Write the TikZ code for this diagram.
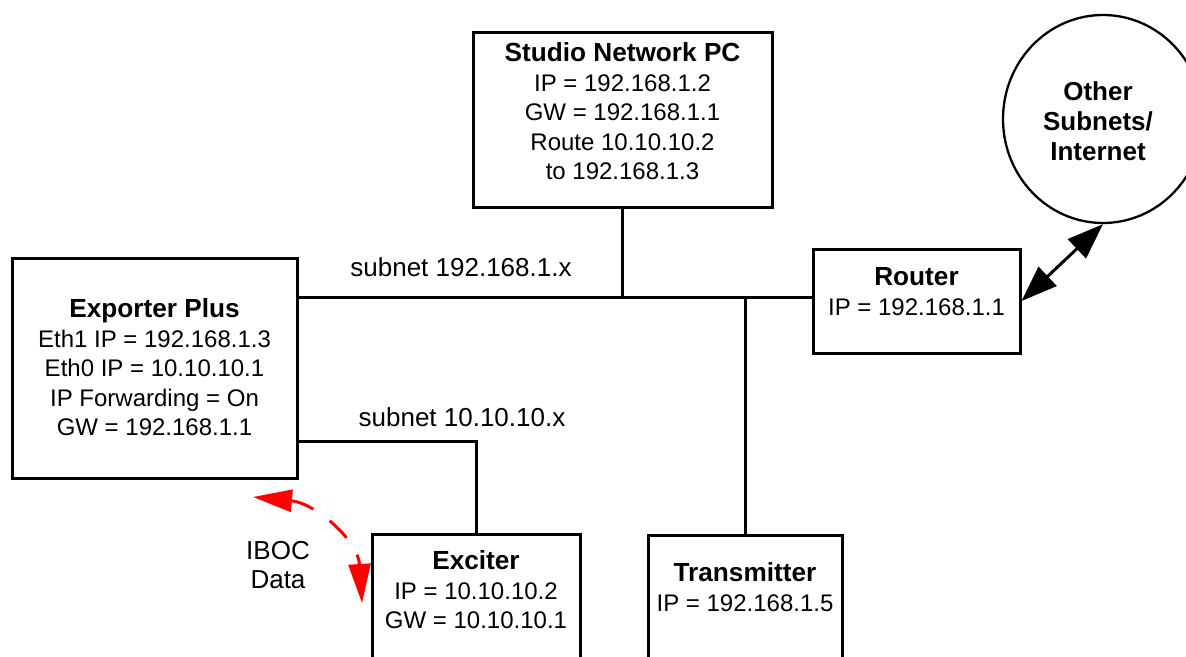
\documentclass[tikz,border=0pt]{standalone}
\usepackage{fontspec}
\setmainfont{Liberation Sans}
\usetikzlibrary{arrows.meta,shapes.geometric}

\newcommand{\boxtitle}[1]{{\fontsize{26.2}{29.5}\selectfont\bfseries #1}}

\begin{document}
\begin{tikzpicture}
  [x=1pt, y=-1pt]
  \tikzstyle{box} = [draw=black, line width=3pt, rectangle, inner sep=0pt];
  \tikzstyle{box_text} = [inner sep=0pt, align=center, anchor=north, font=\fontsize{24}{29.5}\selectfont];
  \tikzstyle{net_text} = [inner sep=0pt, font=\fontsize{26}{29.5}\selectfont];
  \tikzstyle{wire} = [line width=3pt];
  \tikzstyle{big_arrow} = [line width=3pt, {Triangle[length=36pt,width=26pt]}-{Triangle[length=36pt,width=26pt]}];
  \tikzstyle{iboc_arrow} = [red, line width=3pt, dash pattern=on 24pt off 20pt, {Triangle[length=39pt,width=22pt]}-{Triangle[length=39pt,width=22pt]}];

  \useasboundingbox (0, 0) rectangle (1186, 656);

  % boxes
  \node[box, minimum width=299pt, minimum height=175pt] (pc) at (622.5, 119.5) {};
  \node[box, minimum width=285pt, minimum height=220pt] (exporter) at (154.5, 368) {};
  \node[box, minimum width=207pt, minimum height=104pt] (router) at (916.5, 301) {};
  \node[box, minimum width=208pt, minimum height=170pt] (exciter) at (476, 619) {};
  \node[box, minimum width=194pt, minimum height=170pt] (transmitter) at (745, 620) {};
  \node[draw=black, line width=2.3pt, ellipse, minimum width=200pt, minimum height=208pt] (cloud) at (1103, 119) {};

  % box texts
  \node[box_text] (pc_text) at ([yshift=-12pt]pc.north)
    {\boxtitle{Studio Network PC}\\ IP = 192.168.1.2\\ GW = 192.168.1.1\\ Route 10.10.10.2\\ to 192.168.1.3};
  \node[box_text] (exporter_text) at ([yshift=-42pt]exporter.north)
    {\boxtitle{Exporter Plus}\\ Eth1 IP = 192.168.1.3\\ Eth0 IP = 10.10.10.1\\ IP Forwarding = On\\ GW = 192.168.1.1};
  \node[box_text] (router_text) at ([yshift=-20pt]router.north)
    {\boxtitle{Router}\\ IP = 192.168.1.1};
  \node[box_text] (exciter_text) at ([yshift=-18pt]exciter.north)
    {\boxtitle{Exciter}\\ IP = 10.10.10.2\\ GW = 10.10.10.1};
  \node[box_text] (transmitter_text) at ([yshift=-29pt]transmitter.north)
    {\boxtitle{Transmitter}\\ IP = 192.168.1.5};
  \node[net_text, align=center, font=\fontsize{26}{30}\selectfont\bfseries] (cloud_text) at (1098, 121)
    {Other\\ Subnets/\\ Internet};

  % network labels
  \node[net_text] (subnet_a) at (461, 267) {subnet 192.168.1.x};
  \node[net_text] (subnet_b) at (462, 417) {subnet 10.10.10.x};
  \node[net_text, align=center] (iboc) at (278, 565) {IBOC\\ Data};

  % wiring
  \coordinate (bus) at (620, 297);
  \draw[wire] (exporter.east |- bus) -- (router.west |- bus);
  \draw[wire] (pc.south) -- (pc.south |- bus);
  \draw[wire] (transmitter.north) -- (transmitter.north |- bus);
  \draw[wire] ([yshift=-73pt]exporter.east) -| (exciter.north);

  \draw[big_arrow] (router.east) -- (cloud.south);
  \draw[iboc_arrow] (253, 497) .. controls (315, 503) and (358, 540) .. (362, 603);

\end{tikzpicture}
\end{document}
